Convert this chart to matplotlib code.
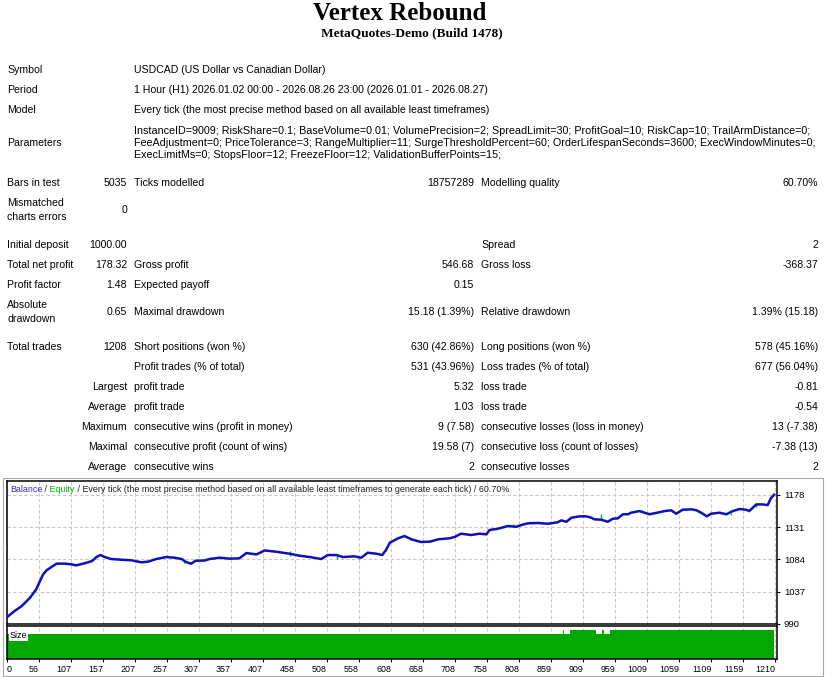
import numpy as np
import matplotlib
matplotlib.use('Agg')
import matplotlib.pyplot as plt
from matplotlib.patches import Rectangle

# report header
title = 'Vertex Rebound'
server = 'MetaQuotes-Demo (Build 1478)'

header_labels = ['Symbol', 'Period', 'Model', 'Parameters']
header_values = [
    'USDCAD (US Dollar vs Canadian Dollar)',
    '1 Hour (H1) 2026.01.02 00:00 - 2026.08.26 23:00 (2026.01.01 - 2026.08.27)',
    'Every tick (the most precise method based on all available least timeframes)',
    'InstanceID=9009; RiskShare=0.1; BaseVolume=0.01; VolumePrecision=2; SpreadLimit=30; ProfitGoal=10; RiskCap=10; TrailArmDistance=0;\n'
    'FeeAdjustment=0; PriceTolerance=3; RangeMultiplier=11; SurgeThresholdPercent=60; OrderLifespanSeconds=3600; ExecWindowMinutes=0;\n'
    'ExecLimitMs=0; StopsFloor=12; FreezeFloor=12; ValidationBufferPoints=15;',
]

# results table: label, value, label, value, label, value
stats = [
    ('Bars in test', '5035', 'Ticks modelled', '18757289', 'Modelling quality', '60.70%'),
    ('Mismatched\ncharts errors', '0', '', '', '', ''),
    ('Initial deposit', '1000.00', '', '', 'Spread', '2'),
    ('Total net profit', '178.32', 'Gross profit', '546.68', 'Gross loss', '-368.37'),
    ('Profit factor', '1.48', 'Expected payoff', '0.15', '', ''),
    ('Absolute\ndrawdown', '0.65', 'Maximal drawdown', '15.18 (1.39%)', 'Relative drawdown', '1.39% (15.18)'),
    ('Total trades', '1208', 'Short positions (won %)', '630 (42.86%)', 'Long positions (won %)', '578 (45.16%)'),
    ('', '', 'Profit trades (% of total)', '531 (43.96%)', 'Loss trades (% of total)', '677 (56.04%)'),
    ('', 'Largest', 'profit trade', '5.32', 'loss trade', '-0.81'),
    ('', 'Average', 'profit trade', '1.03', 'loss trade', '-0.54'),
    ('', 'Maximum', 'consecutive wins (profit in money)', '9 (7.58)', 'consecutive losses (loss in money)', '13 (-7.38)'),
    ('', 'Maximal', 'consecutive profit (count of wins)', '19.58 (7)', 'consecutive loss (count of losses)', '-7.38 (13)'),
    ('', 'Average', 'consecutive wins', '2', 'consecutive losses', '2'),
]

# balance curve (trade number, balance)
bal_t = [0, 12, 23, 36, 46, 52, 57, 62, 70, 78, 91, 101, 109, 122, 134, 141, 147, 154, 164, 180,
         196, 212, 222, 235, 251, 264, 275, 282, 290, 297, 311, 319, 335, 351, 366, 377, 393, 406,
         424, 445, 461, 477, 495, 505, 519, 529, 547, 558, 568, 582, 591, 597, 603, 608, 616, 626,
         637, 652, 666, 679, 697, 705, 715, 731, 744, 755, 760, 773, 789, 802, 810, 820, 836, 852,
         867, 873, 881, 889, 902, 912, 920, 925, 936, 946, 954, 962, 970, 978, 983, 996, 1004,
         1012, 1022, 1036, 1046, 1054, 1064, 1078, 1086, 1096, 1102, 1109, 1122, 1133, 1143, 1154,
         1164, 1169, 1180, 1190, 1198, 1203, 1208]
bal_v = [1000.0, 1009.0, 1016.0, 1028.0, 1040.5, 1052.7, 1062.4, 1068.0, 1073.0, 1077.9, 1078.0,
         1077.0, 1075.5, 1078.4, 1081.8, 1087.6, 1090.5, 1087.6, 1084.7, 1083.7, 1082.8, 1079.9,
         1080.8, 1084.7, 1087.6, 1086.6, 1084.7, 1080.3, 1077.9, 1082.2, 1082.5, 1084.7, 1086.6,
         1085.2, 1085.7, 1093.4, 1091.4, 1097.2, 1095.3, 1092.4, 1089.5, 1087.6, 1084.7, 1090.5,
         1090.5, 1087.6, 1088.6, 1086.6, 1093.9, 1092.4, 1090.5, 1098.2, 1108.5, 1111.0, 1114.9,
         1118.2, 1113.4, 1109.5, 1110.0, 1113.4, 1114.9, 1116.8, 1121.6, 1119.7, 1121.6, 1120.7,
         1127.0, 1128.8, 1132.8, 1131.7, 1134.2, 1136.7, 1137.2, 1136.1, 1138.2, 1141.0, 1139.0,
         1144.9, 1146.9, 1146.9, 1145.0, 1142.5, 1142.0, 1139.0, 1143.4, 1144.0, 1149.9, 1149.9,
         1152.2, 1154.6, 1152.2, 1149.9, 1151.8, 1154.6, 1155.7, 1150.7, 1156.5, 1157.1, 1155.7,
         1150.7, 1146.9, 1150.7, 1152.2, 1149.9, 1154.6, 1157.6, 1156.5, 1154.6, 1164.3, 1164.3,
         1163.3, 1173.1, 1178.3]

# equity excursions visible as small green ticks
eq_t = [279, 445, 519, 555, 597, 636, 797, 936, 1000, 1140, 1180]
eq_lo = [1079.0, 1089.1, 1085.0, 1084.0, 1096.8, 1112.0, 1133.0, 1142.0, 1154.0, 1149.0, 1160.0]
eq_hi = [1082.0, 1096.8, 1089.0, 1086.0, 1101.0, 1114.5, 1136.0, 1150.0, 1156.0, 1152.0, 1165.0]

# lot size steps (start trade, size)
size_t = [0, 875, 877, 887, 927, 937, 940, 950]
size_v = [0.19, 0.22, 0.19, 0.22, 0.19, 0.22, 0.19, 0.22]

x_labels = ['0', '56', '107', '157', '207', '257', '307', '357', '407', '458', '508', '558', '608',
            '658', '708', '758', '808', '859', '909', '959', '1009', '1059', '1109', '1159', '1210']
y_ticks = [990, 1037, 1084, 1131, 1178]

W, H = 832, 677
FONT = 'Liberation Sans'
FS = 7.6
FS_CHART = 6.4


def fx(px):
    return px / W


def fy(py):
    return 1 - py / H


fig = plt.figure(figsize=(W / 100, H / 100), dpi=100)
fig.patch.set_facecolor('white')

fig.text(fx(400), fy(13), title, ha='center', va='center', family='Liberation Serif',
         weight='bold', fontsize=18)
fig.text(fx(412), fy(33), server, ha='center', va='center', family='Liberation Serif',
         weight='bold', fontsize=9.6)

head_y = [70, 90, 110, 143]
for lab, val, y in zip(header_labels, header_values, head_y):
    fig.text(fx(7), fy(y), lab, ha='left', va='center', family=FONT, fontsize=FS)
    fig.text(fx(134), fy(y), val, ha='left', va='center', family=FONT,
             fontsize=7.75 if '\n' in val else FS, linespacing=1.28)

row_y = [183, 210, 245, 265, 285, 312, 347, 367, 387, 407, 427, 447, 467]
col_x = [7, 127, 134, 474, 481, 818]
col_ha = ['left', 'right', 'left', 'right', 'left', 'right']
for row, y in zip(stats, row_y):
    for i, cell in enumerate(row):
        if not cell:
            continue
        fig.text(fx(col_x[i]), fy(y), cell, ha=col_ha[i], va='center', family=FONT,
                 fontsize=FS, linespacing=1.4)

# chart frame
fig.patches.append(Rectangle((fx(3), fy(676)), fx(820), 198 / H, transform=fig.transFigure,
                             fill=False, edgecolor='#A8A8A8', lw=0.8))

tick_step = 1210 / 24
x_pos = [k * tick_step for k in range(25)]
x_max = (777 - 7.3) / 32 * tick_step

ax = fig.add_axes([fx(7), fy(624), fx(770), 143 / H])
ax.vlines(eq_t, eq_lo, eq_hi, color='#00B400', lw=1.0, zorder=2)
ax.plot(bal_t, bal_v, color='#1010B8', lw=1.8, zorder=3)
ax.set_xlim(0, x_max)
ax.set_ylim(990, 1198.4)
ax.set_xticks(x_pos)
ax.set_xticklabels([])
ax.tick_params(axis='x', length=0)
ax.yaxis.tick_right()
ax.set_yticks(y_ticks)
ax.set_yticklabels([str(v) for v in y_ticks], family=FONT, fontsize=6.8)
ax.tick_params(axis='y', direction='out', length=2.5, width=0.8, pad=2.5)
ax.grid(True, color='#C8C8C8', linestyle=(0, (3, 2)), lw=0.8)
for s in ax.spines.values():
    s.set_linewidth(1.1)

# legend line
renderer = fig.canvas.get_renderer()
pieces = ['Balance', ' /', ' Equity',
          ' / Every tick (the most precise method based on all available least timeframes to generate each tick) / 60.70%']
colors = ['#3030C0', '#202020', '#00B400', '#202020']
xx = fx(10)
for p, c in zip(pieces, colors):
    t = fig.text(xx, fy(490), p, color=c, ha='left', va='center', family=FONT,
                 fontsize=FS_CHART)
    xx += t.get_window_extent(renderer).width / W

axs = fig.add_axes([fx(7), fy(659), fx(770), 33 / H])
axs.fill_between(size_t + [1208], 0, size_v + [size_v[-1]], step='post', color='#00A800',
                 lw=0, zorder=2)
axs.set_xlim(0, x_max)
axs.set_ylim(0, 0.22 * 33 / 29)
axs.set_yticks([])
axs.set_xticks(x_pos)
axs.set_xticklabels(x_labels, family=FONT, fontsize=FS_CHART)
axs.tick_params(axis='x', direction='out', length=2.5, width=0.8, pad=1.5)
axs.grid(True, axis='x', color='#C8C8C8', linestyle=(0, (3, 2)), lw=0.8, zorder=1)
for i, lb in enumerate(axs.get_xticklabels()):
    lb.set_horizontalalignment('left' if i == 0 else 'right')
for s in axs.spines.values():
    s.set_linewidth(1.1)
axs.text(0.003, 0.84, 'Size', transform=axs.transAxes, ha='left', va='top', family=FONT,
         fontsize=FS_CHART, zorder=4, bbox=dict(facecolor='white', edgecolor='none', pad=0.6))

fig.savefig('out.png', dpi=100, facecolor='white')
